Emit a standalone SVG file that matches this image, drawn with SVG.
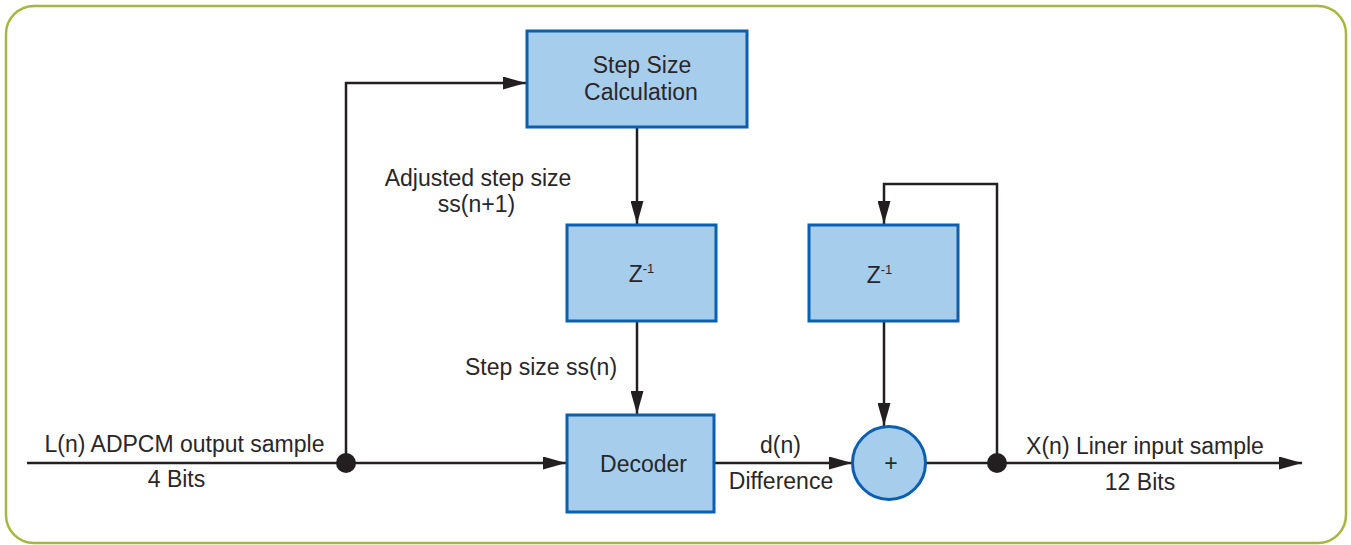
<svg xmlns="http://www.w3.org/2000/svg" width="1351" height="545" viewBox="0 0 1351 545">
  <style>
    .block { fill: #a6cdec; stroke: #0a5fb0; stroke-width: 3; }
    .wire { fill: none; stroke: #231f20; stroke-width: 2.5; }
    .lbl { font-family: "Liberation Sans", Arial, sans-serif; font-size: 23px; fill: #2a2627; text-anchor: middle; }
    .sup { font-size: 13px; }
  </style>
  <defs>
    <marker id="arr" viewBox="0 0 23 13" refX="23" refY="6.5" markerWidth="23" markerHeight="13" markerUnits="userSpaceOnUse" orient="auto">
      <path d="M0,0 L23,6.5 L0,13 Z" fill="#231f20"/>
    </marker>
  </defs>
  <rect width="1351" height="545" fill="#ffffff"/>
  <!-- outer frame -->
  <rect x="6" y="6" width="1340" height="537" rx="28" ry="28" fill="none" stroke="#a9b63c" stroke-width="2.5"/>

  <g id="connectors">
    <line class="wire" x1="27" y1="463" x2="566" y2="463" marker-end="url(#arr)"/>
    <polyline class="wire" points="346,463 346,83 526,83" marker-end="url(#arr)"/>
    <line class="wire" x1="637" y1="127" x2="637" y2="224" marker-end="url(#arr)"/>
    <line class="wire" x1="637" y1="321" x2="637" y2="414" marker-end="url(#arr)"/>
    <line class="wire" x1="714" y1="463" x2="852" y2="463" marker-end="url(#arr)"/>
    <line class="wire" x1="925" y1="463" x2="1302" y2="463" marker-end="url(#arr)"/>
    <polyline class="wire" points="997,463 997,184 884,184 884,224" marker-end="url(#arr)"/>
    <line class="wire" x1="884" y1="321" x2="884" y2="426" marker-end="url(#arr)"/>
    <circle cx="346" cy="463" r="10" fill="#231f20"/>
    <circle cx="997" cy="463" r="10" fill="#231f20"/>
  </g>

  <g id="step-size-calc">
    <rect class="block" x="527" y="31" width="220" height="96"/>
    <text class="lbl" x="642" y="73">Step Size</text>
    <text class="lbl" x="641" y="100">Calculation</text>
  </g>

  <g id="delay-step">
    <rect class="block" x="567" y="225" width="149" height="96"/>
    <text class="lbl" x="641.5" y="282">Z<tspan class="sup" dy="-9">-1</tspan></text>
  </g>

  <g id="delay-sample">
    <rect class="block" x="809" y="225" width="149" height="96"/>
    <text class="lbl" x="879.5" y="283">Z<tspan class="sup" dy="-9">-1</tspan></text>
  </g>

  <g id="decoder">
    <rect class="block" x="567" y="415" width="147" height="97"/>
    <text class="lbl" x="643.5" y="472">Decoder</text>
  </g>

  <g id="adder">
    <circle class="block" cx="889" cy="463" r="36.5"/>
    <text class="lbl" x="891" y="471">+</text>
  </g>

  <g id="labels">
    <text class="lbl" x="478" y="186">Adjusted step size</text>
    <text class="lbl" x="476.5" y="212">ss(n+1)</text>
    <text class="lbl" x="541" y="375">Step size ss(n)</text>
    <text class="lbl" x="184.5" y="452">L(n) ADPCM output sample</text>
    <text class="lbl" x="176.5" y="487">4 Bits</text>
    <text class="lbl" x="780.5" y="453">d(n)</text>
    <text class="lbl" x="781" y="489">Difference</text>
    <text class="lbl" x="1145" y="454">X(n) Liner input sample</text>
    <text class="lbl" x="1140" y="490">12 Bits</text>
  </g>
</svg>
